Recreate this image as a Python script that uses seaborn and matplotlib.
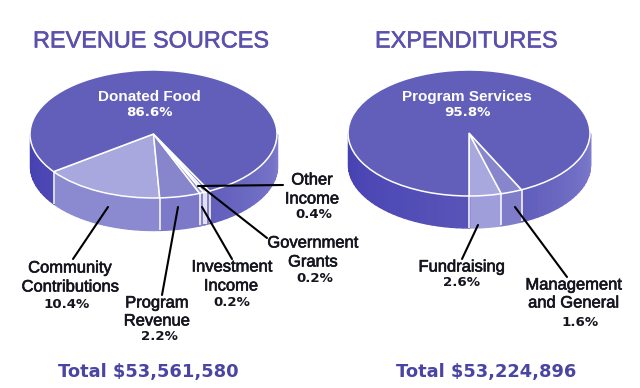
import numpy as np
import matplotlib
matplotlib.use("Agg")
import matplotlib.pyplot as plt
import matplotlib.patheffects as pe
import seaborn as sns

sns.set_theme(style="white")
plt.rcParams['font.family'] = ['Liberation Sans', 'DejaVu Sans']

# Wedge sizes as drawn in the picture (the drawing is not proportional to its printed labels)
rev_names = ["Community Contributions", "Program Revenue", "Investment Income",
             "Government Grants", "Other Income", "Donated Food"]
rev_drawn = [15.8, 5.3, 0.55, 0.35, 0.5, 77.5]
rev_printed = [10.4, 2.2, 0.2, 0.2, 0.4, 86.6]
exp_names = ["Fundraising", "Management and General", "Program Services"]
exp_drawn = [4.3, 2.85, 92.85]
exp_printed = [2.6, 1.6, 95.8]
rev_total = "Total $53,561,580"
exp_total = "Total $53,224,896"

rev_top = ["#A9A8DE", "#8785CB", "#9A98D6", "#8E8CD0", "#8785CB", "#625FBB"]
exp_top = ["#A9A8DE", "#8785CB", "#625FBB"]
rev_side = ["#8B89D0", "#7C7AC8", "#8583CC", "#7C7AC8", "#8583CC", None]
exp_side = ["#A09EDA", "#7F7DC9", None]
PURPLE = "#5B50AC"
INK = "#15151F"
W, H = 640, 388
DEPTH = 0.5


def side_colour(theta):
    dark = np.array(matplotlib.colors.to_rgb("#4540B2"))
    mid = np.array(matplotlib.colors.to_rgb("#5A56B8"))
    light = np.array(matplotlib.colors.to_rgb("#7D7BCB"))
    t = (theta - 180) / 180
    if t < 0.55:
        return dark + (mid - dark) * t / 0.55
    return mid + (light - mid) * (t - 0.55) / 0.45


def cylinder(fig, cx, cy, rx, ry, values, tops, sides, start):
    ax = fig.add_axes([(cx - 1.05 * rx) / W, 1 - (cy + (1 + DEPTH + .05) * ry) / H,
                       2.1 * rx / W, (2.1 + DEPTH) * ry / H])
    bounds = start + np.concatenate([[0], np.cumsum(values)]) * 3.6 / (sum(values) / 100)
    for i, c in enumerate(sides):
        lo, hi = bounds[i], bounds[i + 1]
        for a, b in [(lo, hi), (lo - 360, hi - 360)]:
            a, b = max(a, 180), min(b, 360)
            if b <= a:
                continue
            edges = np.arange(a, b + 3.0, 3.0)
            edges = np.append(edges[edges < b], b)
            for e0, e1 in zip(edges[:-1], edges[1:]):
                th = np.radians(np.linspace(e0, e1, 6))
                col = c if c is not None else side_colour((e0 + e1) / 2)
                ax.fill_between(np.cos(th), np.sin(th), np.sin(th) - DEPTH,
                                facecolor=col, edgecolor=col, lw=1.0, zorder=1)
    for b in bounds[:-1]:
        b = b % 360
        if 180 < b < 360:
            r = np.radians(b)
            ax.plot([np.cos(r)] * 2, [np.sin(r), np.sin(r) - DEPTH],
                    color="white", lw=1.3, alpha=.85, zorder=3, solid_capstyle="butt")
    ax.pie(values, colors=tops, startangle=start, radius=1,
           wedgeprops=dict(edgecolor="white", linewidth=1.1, zorder=4))
    ax.set_aspect("auto")
    ax.set_xlim(-1.05, 1.05)
    ax.set_ylim(-1 - DEPTH - .05, 1.05)
    ax.axis("off")
    return ax


fig = plt.figure(figsize=(W / 100, H / 100), dpi=100, facecolor="white")
cylinder(fig, 153.5, 134, 123.5, 64, rev_drawn, rev_top, rev_side, 216)
cylinder(fig, 469, 133, 121, 63, exp_drawn, exp_top, exp_side, 270)

ov = fig.add_axes([0, 0, 1, 1], facecolor="none")
ov.set_xlim(0, W)
ov.set_ylim(H, 0)
ov.axis("off")

leaders = [((108, 207), (73, 259)), ((178, 207), (162, 295)), ((202, 207), (232, 259)),
           ((202, 187), (267, 238)), ((198, 186), (283, 185)),
           ((478, 225), (462, 259)), ((515, 207), (567, 277))]
for p, q in leaders:
    ov.plot([p[0], q[0]], [p[1], q[1]], color="black", lw=1.5, solid_capstyle="round")

thick = [pe.withStroke(linewidth=0.45, foreground=INK)]


def label(rows, value, vpos):
    for x, y, s in rows:
        ov.text(x, y, s, ha="center", va="center", color=INK, fontsize=11.9, path_effects=thick)
    ov.text(vpos[0], vpos[1], f"{value}%", ha="center", va="center", color=INK, fontsize=9.6,
            fontweight="bold", family="DejaVu Sans")


for x, name, val in [(149, rev_names[5], rev_printed[5]), (467, exp_names[2], exp_printed[2])]:
    ov.text(x, 97, name, ha="center", va="center", color="white", fontsize=11, fontweight="bold")
    ov.text(x, 113, f"{val}%", ha="center", va="center", color="white", fontsize=9.6,
            fontweight="bold", family="DejaVu Sans")

label([(70, 268, "Community"), (70.5, 287, "Contributions")], rev_printed[0], (67, 304))
label([(157, 303, "Program"), (157, 321, "Revenue")], rev_printed[1], (159, 337))
label([(232, 267, "Investment"), (231, 286, "Income")], rev_printed[2], (232, 303))
label([(313, 243, "Government"), (313, 262, "Grants")], rev_printed[3], (315, 278))
label([(312, 180, "Other"), (312, 199, "Income")], rev_printed[4], (314, 214))
label([(462, 267, "Fundraising")], exp_printed[0], (462, 283))
label([(574, 285, "Management"), (574, 303, "and General")], exp_printed[1], (580, 322))

title_fx = [pe.withStroke(linewidth=0.4, foreground=PURPLE)]
ov.text(33, 41, "REVENUE SOURCES", color=PURPLE, fontsize=16.9, va="center", ha="left", path_effects=title_fx)
ov.text(375, 41, "EXPENDITURES", color=PURPLE, fontsize=16.9, va="center", ha="left", path_effects=title_fx)
ov.text(58, 372, rev_total, color="#4A45A2", fontsize=12.9, fontweight="bold", va="center", ha="left",
        family="DejaVu Sans")
ov.text(396, 372, exp_total, color="#4A45A2", fontsize=12.9, fontweight="bold", va="center", ha="left",
        family="DejaVu Sans")

fig.savefig("out.png", dpi=100)
